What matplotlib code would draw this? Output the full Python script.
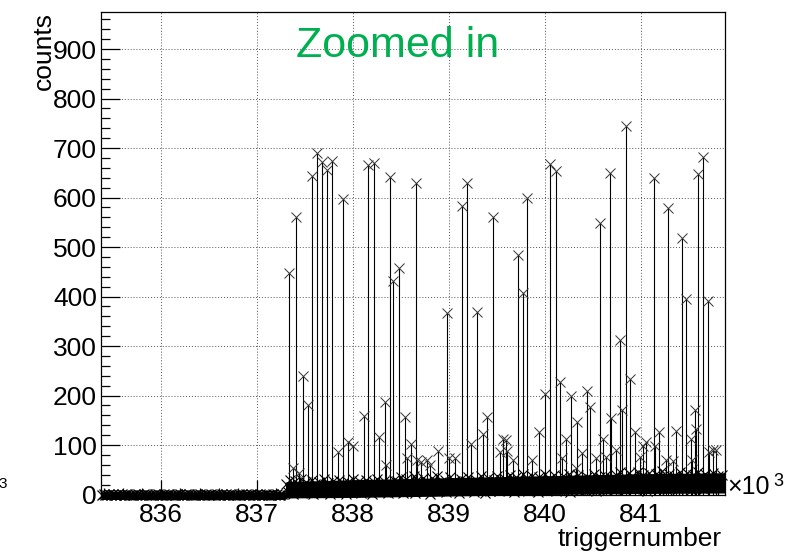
import numpy as np
import matplotlib
matplotlib.use("Agg")
import matplotlib.pyplot as plt
from matplotlib.ticker import MultipleLocator, FuncFormatter

plt.rcParams['font.family'] = ['Liberation Sans', 'DejaVu Sans']

# ---------------- data ----------------
# quiet region (before beam): trigger numbers from 835380, step 19
quiet_start, quiet_step = 835380, 19
quiet_vals = [0, 1, 0, 0, 2, 0, 1, 0, 0, 1, 0, 2, 0, 0, 1, 0, 0, 0, 1, 0,
              1, 0, 0, 2, 0, 1, 0, 0, 0, 1, 0, 1, 0, 0, 2, 0, 0, 1, 0, 0,
              0, 1, 0, 2, 0, 0, 1, 0, 1, 0, 0, 0, 2, 0, 1, 0, 0, 1, 0, 0,
              2, 0, 0, 1, 0, 0, 1, 0, 2, 0, 0, 1, 0, 0, 0, 1, 0, 2, 0, 1,
              0, 0, 1, 0, 0, 2, 0, 1, 0, 0, 1, 0, 0, 0, 2, 0, 1, 0, 0, 1]

# active region baseline counts: trigger numbers from 837300, step 19
active_start, active_step = 837300, 19
active_vals = [
    22, 5, 30, 12, 2, 27, 16, 8, 31, 3, 19, 25, 6, 14, 29, 1, 21, 11, 26, 4,
    17, 32, 9, 24, 2, 18, 28, 7, 13, 30, 5, 23, 15, 1, 26, 10, 20, 31, 6, 16,
    27, 3, 22, 12, 29, 8, 18, 2, 25, 14, 32, 5, 21, 9, 28, 11, 3, 24, 17, 30,
    6, 27, 13, 35, 3, 20, 31, 9, 24, 16, 37, 4, 29, 11, 22, 34, 7, 18, 26, 2,
    33, 14, 21, 38, 8, 25, 12, 30, 5, 19, 36, 10, 28, 15, 23, 3, 32, 17, 27, 9,
    35, 13, 21, 6, 30, 24, 11, 37, 16, 4, 26, 33, 8, 19, 29, 12, 38, 7, 22, 15,
    31, 9, 25, 40, 14, 6, 35, 20, 28, 11, 42, 17, 33, 7, 23, 38, 13, 29, 5, 36,
    19, 26, 41, 10, 32, 16, 24, 39, 8, 30, 21, 12, 37, 27, 15, 42, 6, 34, 18, 25,
    40, 11, 29, 22, 9, 36, 14, 31, 19, 41, 7, 27, 35, 13, 24, 38, 10, 30, 17, 33,
    12, 40, 23, 45, 15, 34, 9, 28, 43, 19, 37, 11, 31, 46, 21, 14, 39, 26, 8, 44,
    17, 33, 24, 41, 13, 36, 47, 20, 29, 10, 42, 25, 16, 38, 31, 12, 45, 22, 35, 18,
    43, 27, 9, 39, 30, 15, 46, 24, 36, 11, 41, 20, 33, 14, 44, 28, 17, 38, 26, 40]

# envelope of the dense (saturated) baseline band
band_x = [835372, 837290, 837300, 838000, 839000, 840000, 841000, 841875]
band_lo = [-10, -10, -7, -6, -3, 0, 2, 3]
band_hi = [5, 5, 26, 30, 34, 38, 42, 44]

# individual spikes (trigger number, counts)
spike_x = [837333, 837370, 837403, 837440, 837473, 837531, 837567, 837619, 837671, 837723,
           837781, 837837, 837889, 837948, 838000, 838111, 838157, 838216, 838270, 838330,
           838345, 838382, 838417, 838480, 838538, 838560, 838598, 838653, 838665, 838710,
           838770, 838800, 838879, 838983, 838995, 839060, 839129, 839188, 839233, 839292,
           839348, 839396, 839458, 839528, 839563, 839590, 839605, 839667, 839719, 839765,
           839813, 839865, 839934, 839997, 840056, 840111, 840160, 840175, 840216, 840265,
           840326, 840333, 840380, 840438, 840473, 840535, 840570, 840600, 840630, 840674,
           840690, 840736, 840785, 840800, 840841, 840889, 840934, 840986, 841020, 841056,
           841132, 841145, 841184, 841265, 841280, 841330, 841369, 841427, 841473, 841520,
           841535, 841559, 841575, 841594, 841646, 841698, 841710, 841750, 841785]
spike_y = [447, 53, 560, 43, 240, 181, 644, 690, 672, 656,
           674, 86, 597, 107, 97, 159, 666, 669, 117, 187,
           60, 641, 432, 457, 156, 74, 103, 629, 70, 66,
           70, 60, 87, 366, 74, 73, 583, 629, 102, 369,
           122, 156, 560, 86, 113, 110, 88, 70, 484, 408,
           600, 70, 127, 203, 668, 654, 228, 73, 113, 199,
           53, 147, 83, 210, 176, 73, 548, 113, 76, 649,
           154, 90, 312, 171, 745, 233, 127, 76, 97, 107,
           639, 97, 127, 70, 578, 68, 129, 518, 396, 113,
           70, 171, 132, 647, 682, 390, 86, 90, 90]

x_min, x_max = 835372, 841875
y_min, y_max = 0, 976
x_major = [836000, 837000, 838000, 839000, 840000, 841000]

# ---------------- figure ----------------
W, H = 786, 554
fig = plt.figure(figsize=(W / 100, H / 100), dpi=100)
ax = fig.add_axes([101 / W, 1 - 494.5 / H, (725 - 101) / W, (494.5 - 11.5) / H])

qx = quiet_start + quiet_step * np.arange(len(quiet_vals))
axx = active_start + active_step * np.arange(len(active_vals))

ax.fill_between(band_x, band_lo, band_hi, color='black', lw=0, clip_on=False, zorder=3)
ax.plot(qx, quiet_vals, color='black', lw=1.2, marker='x', ms=6.5, mew=0.9,
        clip_on=False, zorder=3)
ax.plot(axx, active_vals, color='black', lw=1.0, marker='x', ms=6.5, mew=0.8,
        clip_on=False, zorder=3)
ax.vlines(spike_x, 0, spike_y, colors='black', lw=0.8, zorder=3)
ax.plot(spike_x, spike_y, ls='none', marker='x', ms=6.5, mew=0.7,
        color='#333333', zorder=4)

ax.set_xlim(x_min, x_max)
ax.set_ylim(y_min, y_max)

ax.set_xticks(x_major)
ax.xaxis.set_minor_locator(MultipleLocator(200))
ax.xaxis.set_major_formatter(FuncFormatter(lambda v, p: f"{v / 1000:.0f}"))
ax.yaxis.set_major_locator(MultipleLocator(100))
ax.yaxis.set_minor_locator(MultipleLocator(20))

ax.tick_params(axis='both', which='both', direction='in', top=False, right=False,
               labelsize=19, color='black', width=0.9)
ax.tick_params(axis='x', which='major', length=10.5, pad=6)
ax.tick_params(axis='x', which='minor', length=5)
ax.tick_params(axis='y', which='major', length=13.5, pad=3)
ax.tick_params(axis='y', which='minor', length=6.5)

ax.grid(True, which='major', color='#555555', lw=0.7, ls=(0, (1, 2)))
ax.set_axisbelow(True)
for s in ax.spines.values():
    s.set_linewidth(0.9)
    s.set_color('black')
    s.set_zorder(5)

# texts
fig.text(55.6 / W, 1 - 12 / H, 'counts', rotation=90, ha='right', va='top', fontsize=19)
fig.text(722 / W, 1 - 546 / H, 'triggernumber', ha='right', va='baseline', fontsize=19)
fig.text(727 / W, 1 - 494 / H, '\u00d710', ha='left', va='baseline', fontsize=18)
fig.text(773 / W, 1 - 486 / H, '3', ha='left', va='baseline', fontsize=13)
fig.text(-2 / W, 1 - 488 / H, '3', ha='left', va='baseline', fontsize=11)
fig.text(296 / W, 1 - 56.7 / H, 'Zoomed in', ha='left', va='baseline',
         fontsize=31, color='#00b050')

fig.savefig('out.png', dpi=100)
